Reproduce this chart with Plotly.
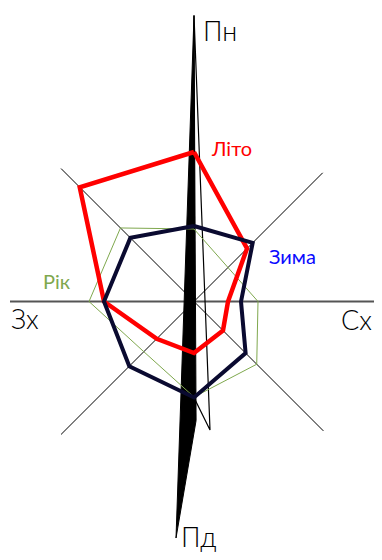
import numpy as np
import plotly.graph_objects as go

# ---- data -------------------------------------------------------------
directions = ["Пн", "Пн-Сх", "Сх", "Пд-Сх", "Пд", "Пд-Зх", "Зх", "Пн-Зх"]
angles = [0, 45, 90, 135, 180, 225, 270, 315]

winter = [75.5, 83, 47, 73, 96, 91.5, 90, 90]        # Зима
summer = [149.5, 75, 34, 41, 51.5, 52.7, 90, 161.6]  # Літо
year = [72.5, 48, 64, 88.7, 95.5, 71, 105, 104]      # Рік

# compass axis lengths (E, W, NE, SW, SE, NW)
axis_theta = [90, 270, 45, 225, 135, 315]
axis_len = [184, 184, 182, 188, 183, 188]

# needle (filled) and its thin outline
needle_r = [286, 119, 237.2]
needle_theta = [0, 179.0, 184.35]
outline_r = [286, 129.5, 96]
outline_theta = [0, 172.9, 180]


def to_xy(r, theta, close=True):
    r = np.asarray(r, float)
    t = np.radians(np.asarray(theta, float))
    x = r * np.sin(t)
    y = r * np.cos(t)
    if close:
        x = np.append(x, x[0])
        y = np.append(y, y[0])
    return x, y


fig = go.Figure()

# horizontal W–E axis
hx, hy = to_xy(axis_len[:2], axis_theta[:2], close=False)
fig.add_trace(go.Scatter(x=hx, y=hy, mode="lines",
                         line=dict(color="#555555", width=2), hoverinfo="skip"))
# diagonals
for i in (2, 4):
    dx, dy = to_xy(axis_len[i:i + 2], axis_theta[i:i + 2], close=False)
    fig.add_trace(go.Scatter(x=dx, y=dy, mode="lines",
                             line=dict(color="#000000", width=1), hoverinfo="skip"))

# needle
nx, ny = to_xy(needle_r, needle_theta)
fig.add_trace(go.Scatter(x=nx, y=ny, mode="lines", fill="toself",
                         fillcolor="#000000", line=dict(color="#000000", width=1),
                         hoverinfo="skip"))
ox, oy = to_xy(outline_r, outline_theta)
fig.add_trace(go.Scatter(x=ox, y=oy, mode="lines",
                         line=dict(color="#000000", width=1.2), hoverinfo="skip"))

# seasons
gx, gy = to_xy(year, angles)
fig.add_trace(go.Scatter(x=gx, y=gy, mode="lines", name="Рік",
                         line=dict(color="#7fa84e", width=1)))
sx, sy = to_xy(summer, angles)
fig.add_trace(go.Scatter(x=sx, y=sy, mode="lines", name="Літо",
                         line=dict(color="#ff0000", width=4.5)))
wx, wy = to_xy(winter, angles)
fig.add_trace(go.Scatter(x=wx, y=wy, mode="lines", name="Зима",
                         line=dict(color="#0a0a30", width=4)))

font_family = "Lato, 'Open Sans', sans-serif"
labels = [
    ("Пн", 26, 271.5, 27, "#000000", 300),
    ("Пд", 4.5, -234.5, 27, "#000000", 300),
    ("Зх", -169.5, -16.5, 27, "#000000", 300),
    ("Сх", 162, -17.5, 27, "#000000", 300),
    ("Літо", 37, 153.5, 20, "#ff0000", 400),
    ("Зима", 98, 45.5, 20, "#0a0aff", 400),
    ("Рік", -137, 20.5, 20, "#7fa84e", 400),
]
for text, x, y, size, color, weight in labels:
    fig.add_annotation(x=x, y=y, text=text, showarrow=False,
                       xanchor="center", yanchor="middle",
                       font=dict(family=font_family, size=size, color=color,
                                 weight=weight))

# the page body adds an 8px offset, compensated in the axis ranges
fig.update_layout(
    width=382, height=560,
    margin=dict(l=0, r=0, t=0, b=0),
    paper_bgcolor="white", plot_bgcolor="white",
    showlegend=False,
    xaxis=dict(range=[-186, 196], visible=False, fixedrange=True),
    yaxis=dict(range=[-266.5, 293.5], visible=False, fixedrange=True),
)

fig.write_html("out.html")
